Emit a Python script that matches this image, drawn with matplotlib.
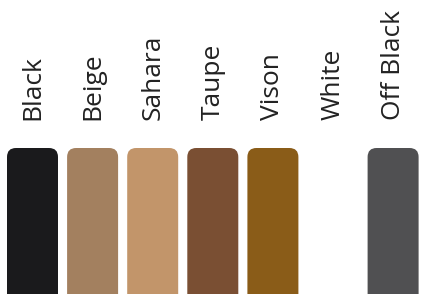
import matplotlib.pyplot as plt
from matplotlib.patches import FancyBboxPatch

# colour swatches
names = ["Black", "Beige", "Sahara", "Taupe", "Vison", "White", "Off Black"]
colors = ["#1a1a1c", "#a3805f", "#c2956a", "#7a4f33", "#8a5c18", "#ffffff", "#505052"]

W, H = 421, 294
fig = plt.figure(figsize=(W / 100, H / 100), dpi=100)
ax = fig.add_axes([0, 0, 1, 1])
ax.set_xlim(0, W)
ax.set_ylim(H, 0)
ax.axis("off")

x0, step, bw = 32.5, 60.1, 51
top = 148
for i, (name, col) in enumerate(zip(names, colors)):
    cx = x0 + i * step
    box = FancyBboxPatch((cx - bw / 2, top), bw, 200,
                         boxstyle="round,pad=0,rounding_size=9",
                         facecolor=col, edgecolor="none")
    ax.add_patch(box)
    ax.text(cx, 120, name, rotation=90, ha="center", va="bottom",
            fontsize=19, family="Open Sans", color="#222222")

plt.savefig("out.png", dpi=100)
